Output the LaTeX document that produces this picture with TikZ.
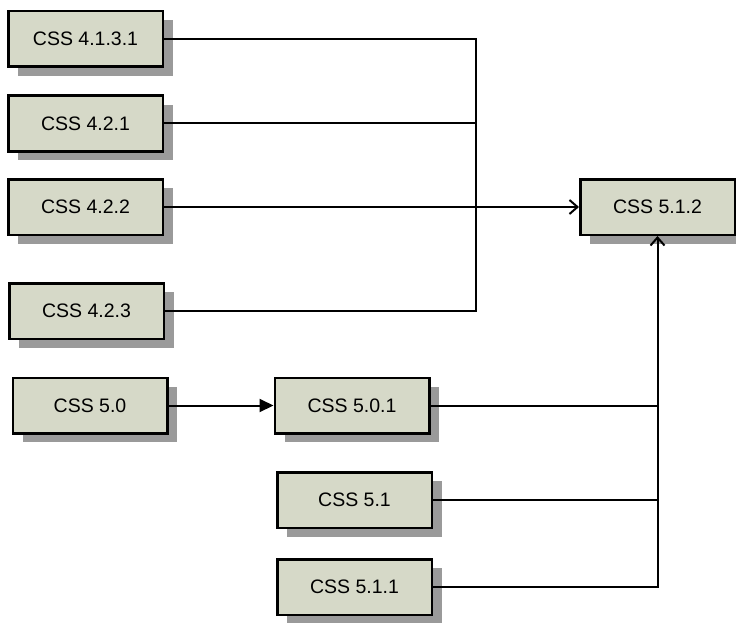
\documentclass[tikz,border=0pt]{standalone}
\usepackage{fontspec}
\setmainfont{Liberation Sans}
\usetikzlibrary{shadows,arrows.meta}
\definecolor{boxfill}{HTML}{D6D9C8}
\definecolor{shadowgray}{HTML}{9A9A9A}

\begin{document}
\begin{tikzpicture}[x=1pt,y=-1pt]
\tikzstyle{cssbox}=[rectangle,draw=black,line width=2.5pt,fill=boxfill,minimum width=154.5pt,minimum height=55.5pt,inner sep=0pt,font=\fontsize{19.5}{22}\selectfont,drop shadow={shadow xshift=10pt,shadow yshift=-9pt,fill=shadowgray,opacity=1}]
\tikzstyle{link}=[line width=2pt]
\useasboundingbox (0,0) rectangle (736,623);
\node [cssbox] (c4131) at (85.5,39) {CSS 4.1.3.1};
\node [cssbox] (c421) at (85.5,123.5) {CSS 4.2.1};
\node [cssbox] (c422) at (85.5,207) {CSS 4.2.2};
\node [cssbox] (c423) at (86.5,311) {CSS 4.2.3};
\node [cssbox] (c50) at (90,405.5) {CSS 5.0};
\node [cssbox] (c501) at (352,405.5) {CSS 5.0.1};
\node [cssbox] (c51) at (354.5,500) {CSS 5.1};
\node [cssbox] (c511) at (354.5,587) {CSS 5.1.1};
\node [cssbox] (c512) at (657.5,207) {CSS 5.1.2};
% left bus
\coordinate (ltop) at (476,39);
\coordinate (lbot) at (476,311);
\draw [link] (c4131.east) -- (ltop) -- (lbot) -- (c423.east);
\draw [link] (c421.east) -- (c421.east -| ltop);
\draw [line width=1.2pt] (c422.east) -- (c422.east -| ltop);
\draw [link,-{Straight Barb[length=8pt,width=14pt]}] (c422.east -| ltop) -- (c512.west);
% right bus
\draw [link,-{Triangle[length=14pt,width=13pt]}] (c50.east) -- (c501.west);
\draw [link,-{Straight Barb[length=8pt,width=14pt]}] (c511.east) -| (c512.south);
\draw [link] (c501.east) -- (c501.east -| c512.south);
\draw [link] (c51.east) -- (c51.east -| c512.south);
\end{tikzpicture}
\end{document}
